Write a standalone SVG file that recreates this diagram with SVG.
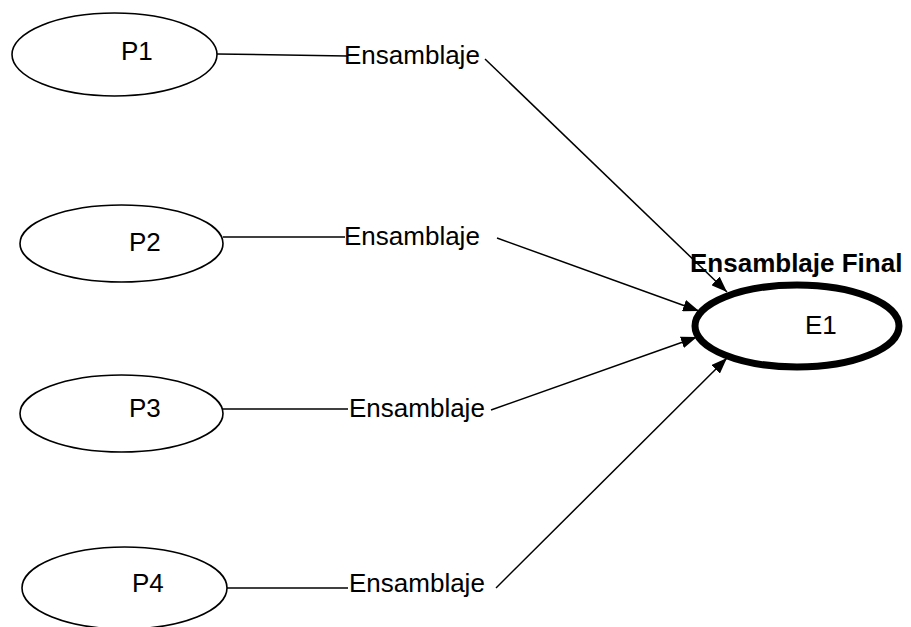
<svg xmlns="http://www.w3.org/2000/svg" width="911" height="627" viewBox="0 0 911 627">
  <style>
    .part { fill: #fff; stroke: #000; stroke-width: 1.6; }
    .final { fill: #fff; stroke: #000; stroke-width: 7; }
    .lbl { font-family: "Liberation Sans", Arial, sans-serif; font-size: 26px; fill: #000; }
    .bold { font-weight: bold; }
    .link { stroke: #000; stroke-width: 1.5; fill: none; }
    .arrow { stroke: #000; stroke-width: 1.5; fill: none; marker-end: url(#head); }
  </style>
  <defs>
    <marker id="head" viewBox="0 0 16 12" refX="16" refY="6" markerWidth="16" markerHeight="12" markerUnits="userSpaceOnUse" orient="auto">
      <path d="M0,0 L16,6 L0,12 z" fill="#000"/>
    </marker>
  </defs>

  <g id="connectors">
    <line class="link" x1="217" y1="54" x2="347" y2="56"/>
    <line class="link" x1="223" y1="237" x2="345" y2="237"/>
    <line class="link" x1="223" y1="409" x2="348" y2="409"/>
    <line class="link" x1="227" y1="588" x2="348" y2="588"/>
    <line class="arrow" x1="485" y1="59" x2="727" y2="292"/>
    <line class="arrow" x1="497" y1="238" x2="699" y2="311"/>
    <line class="arrow" x1="491" y1="410" x2="697" y2="337"/>
    <line class="arrow" x1="496" y1="588" x2="727" y2="358"/>
  </g>

  <g id="p1">
    <ellipse class="part" cx="114.5" cy="54.5" rx="102.5" ry="41.5"/>
    <text class="lbl" x="121" y="60">P1</text>
  </g>
  <g id="p2">
    <ellipse class="part" cx="121.5" cy="243.5" rx="101.5" ry="38.5"/>
    <text class="lbl" x="129" y="251">P2</text>
  </g>
  <g id="p3">
    <ellipse class="part" cx="121.5" cy="413.5" rx="101.5" ry="38.5"/>
    <text class="lbl" x="129" y="417">P3</text>
  </g>
  <g id="p4">
    <ellipse class="part" cx="124.5" cy="588" rx="102.5" ry="41"/>
    <text class="lbl" x="132" y="592">P4</text>
  </g>

  <g id="ens1"><text class="lbl" x="344" y="64">Ensamblaje</text></g>
  <g id="ens2"><text class="lbl" x="344" y="245">Ensamblaje</text></g>
  <g id="ens3"><text class="lbl" x="349" y="417">Ensamblaje</text></g>
  <g id="ens4"><text class="lbl" x="349" y="592">Ensamblaje</text></g>

  <g id="e1">
    <ellipse class="final" cx="797" cy="326" rx="102" ry="41"/>
    <text class="lbl" x="805" y="334">E1</text>
    <text class="lbl bold" x="690" y="272">Ensamblaje Final</text>
  </g>
</svg>
